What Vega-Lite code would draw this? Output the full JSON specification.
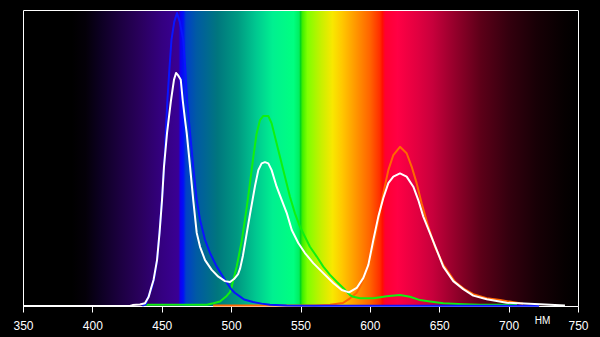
{
  "$schema": "https://vega.github.io/schema/vega-lite/v6.json",
  "width": 555,
  "height": 296,
  "autosize": {"type": "none"},
  "padding": {"left": 23, "top": 10, "right": 22, "bottom": 31},
  "background": "#000000",
  "config": {"view": {"stroke": null}, "font": "Liberation Sans"},
  "datasets": {
    "frame": [{"lo": 350, "hi": 750, "bottom": 0, "top": 1}],
    "white": [
      {"nm": 350, "v": 0}, {"nm": 427, "v": 0}, {"nm": 429, "v": 0.003}, {"nm": 434.3, "v": 0.005},
      {"nm": 437.9, "v": 0.009}, {"nm": 440.5, "v": 0.03}, {"nm": 442.3, "v": 0.06}, {"nm": 444.1, "v": 0.088},
      {"nm": 446.6, "v": 0.155}, {"nm": 448.4, "v": 0.247}, {"nm": 450.2, "v": 0.358}, {"nm": 451.6, "v": 0.47},
      {"nm": 453.8, "v": 0.584}, {"nm": 456.7, "v": 0.696}, {"nm": 458.8, "v": 0.764}, {"nm": 460.3, "v": 0.787},
      {"nm": 461.7, "v": 0.78}, {"nm": 463.7, "v": 0.764}, {"nm": 465.1, "v": 0.696}, {"nm": 466.8, "v": 0.628},
      {"nm": 468.0, "v": 0.584}, {"nm": 470.4, "v": 0.471}, {"nm": 472.7, "v": 0.358}, {"nm": 475.2, "v": 0.247},
      {"nm": 477.6, "v": 0.2}, {"nm": 481.2, "v": 0.155}, {"nm": 486.0, "v": 0.122}, {"nm": 490.8, "v": 0.099},
      {"nm": 495.6, "v": 0.084}, {"nm": 499.2, "v": 0.081}, {"nm": 502.1, "v": 0.091}, {"nm": 505.0, "v": 0.108},
      {"nm": 506.5, "v": 0.127}, {"nm": 508.5, "v": 0.17}, {"nm": 510.5, "v": 0.225}, {"nm": 513.6, "v": 0.31},
      {"nm": 517.2, "v": 0.405}, {"nm": 519.6, "v": 0.459}, {"nm": 522.0, "v": 0.482}, {"nm": 524.4, "v": 0.486},
      {"nm": 526.8, "v": 0.482}, {"nm": 529.2, "v": 0.459}, {"nm": 532.8, "v": 0.403}, {"nm": 536.5, "v": 0.358},
      {"nm": 540.1, "v": 0.314}, {"nm": 543.7, "v": 0.257}, {"nm": 548.4, "v": 0.213}, {"nm": 553.2, "v": 0.179},
      {"nm": 559.2, "v": 0.145}, {"nm": 566.4, "v": 0.111}, {"nm": 573.6, "v": 0.078}, {"nm": 579.7, "v": 0.054},
      {"nm": 585.0, "v": 0.046}, {"nm": 590.5, "v": 0.061}, {"nm": 595.3, "v": 0.095}, {"nm": 598.9, "v": 0.139},
      {"nm": 602.5, "v": 0.223}, {"nm": 606.1, "v": 0.302}, {"nm": 609.7, "v": 0.365}, {"nm": 613.3, "v": 0.415},
      {"nm": 616.9, "v": 0.437}, {"nm": 621.7, "v": 0.448}, {"nm": 626.5, "v": 0.437}, {"nm": 631.3, "v": 0.403},
      {"nm": 634.9, "v": 0.358}, {"nm": 638.5, "v": 0.302}, {"nm": 643.3, "v": 0.246}, {"nm": 648.2, "v": 0.189},
      {"nm": 652.9, "v": 0.133}, {"nm": 660.1, "v": 0.084}, {"nm": 667.3, "v": 0.057}, {"nm": 674.5, "v": 0.035},
      {"nm": 684.2, "v": 0.023}, {"nm": 698.6, "v": 0.011}, {"nm": 722.6, "v": 0.006}, {"nm": 740.6, "v": 0.002}
    ],
    "blue": [
      {"nm": 436, "v": 0.001}, {"nm": 438.5, "v": 0.006}, {"nm": 439.4, "v": 0.02}, {"nm": 441, "v": 0.04},
      {"nm": 443, "v": 0.064}, {"nm": 445, "v": 0.105}, {"nm": 446.6, "v": 0.155}, {"nm": 448.7, "v": 0.267},
      {"nm": 450.5, "v": 0.382}, {"nm": 452, "v": 0.493}, {"nm": 453.1, "v": 0.605}, {"nm": 454.1, "v": 0.696},
      {"nm": 455.5, "v": 0.8}, {"nm": 457, "v": 0.899}, {"nm": 459, "v": 0.96}, {"nm": 461, "v": 0.99},
      {"nm": 463, "v": 0.96}, {"nm": 465.5, "v": 0.899}, {"nm": 467, "v": 0.8}, {"nm": 468.2, "v": 0.696},
      {"nm": 470.4, "v": 0.584}, {"nm": 472.7, "v": 0.471}, {"nm": 475.2, "v": 0.358}, {"nm": 477.6, "v": 0.291},
      {"nm": 481.2, "v": 0.223}, {"nm": 484.8, "v": 0.179}, {"nm": 489.6, "v": 0.133}, {"nm": 495.6, "v": 0.088},
      {"nm": 500, "v": 0.057}, {"nm": 502.8, "v": 0.044}, {"nm": 507, "v": 0.03}, {"nm": 509.3, "v": 0.022},
      {"nm": 515.8, "v": 0.0135}, {"nm": 522, "v": 0.008}, {"nm": 528, "v": 0.004}, {"nm": 540, "v": 0.002},
      {"nm": 560, "v": 0.001}, {"nm": 722, "v": 0.001}
    ],
    "green": [
      {"nm": 436.5, "v": 0.004}, {"nm": 482.6, "v": 0.004}, {"nm": 487.2, "v": 0.009}, {"nm": 492.0, "v": 0.015},
      {"nm": 496.8, "v": 0.034}, {"nm": 499.2, "v": 0.047}, {"nm": 500.4, "v": 0.065}, {"nm": 502, "v": 0.095},
      {"nm": 504.0, "v": 0.133}, {"nm": 507.6, "v": 0.218}, {"nm": 511.2, "v": 0.331}, {"nm": 513.6, "v": 0.415},
      {"nm": 516.0, "v": 0.504}, {"nm": 518.4, "v": 0.583}, {"nm": 520.8, "v": 0.628}, {"nm": 523.2, "v": 0.642},
      {"nm": 526.8, "v": 0.642}, {"nm": 529.2, "v": 0.617}, {"nm": 531.6, "v": 0.572}, {"nm": 535.2, "v": 0.504},
      {"nm": 538.8, "v": 0.437}, {"nm": 542.4, "v": 0.369}, {"nm": 546.0, "v": 0.313}, {"nm": 549.6, "v": 0.268},
      {"nm": 553.2, "v": 0.234}, {"nm": 556.8, "v": 0.2}, {"nm": 561.7, "v": 0.167}, {"nm": 566.4, "v": 0.133},
      {"nm": 571.3, "v": 0.105}, {"nm": 576.1, "v": 0.082}, {"nm": 580.8, "v": 0.061}, {"nm": 585.7, "v": 0.037},
      {"nm": 588.0, "v": 0.031}, {"nm": 592.9, "v": 0.026}, {"nm": 602.5, "v": 0.026}, {"nm": 612.1, "v": 0.033},
      {"nm": 621.7, "v": 0.037}, {"nm": 628.9, "v": 0.031}, {"nm": 636.1, "v": 0.02}, {"nm": 643.3, "v": 0.015},
      {"nm": 652.9, "v": 0.009}, {"nm": 667.3, "v": 0.006}, {"nm": 679.4, "v": 0.004}, {"nm": 706, "v": 0.004}
    ],
    "orange": [
      {"nm": 487, "v": 0.002}, {"nm": 560, "v": 0.002}, {"nm": 571.3, "v": 0.004}, {"nm": 580.6, "v": 0.01},
      {"nm": 585.7, "v": 0.026}, {"nm": 590.5, "v": 0.045}, {"nm": 592.9, "v": 0.065}, {"nm": 595.3, "v": 0.09},
      {"nm": 597.7, "v": 0.122}, {"nm": 600, "v": 0.16}, {"nm": 602.5, "v": 0.2}, {"nm": 606.1, "v": 0.291},
      {"nm": 609.7, "v": 0.381}, {"nm": 613.3, "v": 0.459}, {"nm": 616.9, "v": 0.51}, {"nm": 621.7, "v": 0.538},
      {"nm": 626.5, "v": 0.516}, {"nm": 630.1, "v": 0.471}, {"nm": 633.7, "v": 0.415}, {"nm": 637.3, "v": 0.347},
      {"nm": 642.1, "v": 0.268}, {"nm": 646.9, "v": 0.2}, {"nm": 652.9, "v": 0.139}, {"nm": 655.4, "v": 0.122},
      {"nm": 661.4, "v": 0.082}, {"nm": 668.6, "v": 0.056}, {"nm": 674.5, "v": 0.04}, {"nm": 684.2, "v": 0.026},
      {"nm": 693.8, "v": 0.02}, {"nm": 708.2, "v": 0.009}, {"nm": 710.4, "v": 0.008}
    ]
  },
  "layer": [
    {
      "data": {"name": "frame"},
      "mark": {
        "type": "rect",
        "fill": {
          "gradient": "linear", "x1": 0, "y1": 0, "x2": 1, "y2": 0,
          "stops": [
            {"offset": 0, "color": "#000000"},
            {"offset": 0.0875, "color": "#000000"},
            {"offset": 0.1125, "color": "#040008"},
            {"offset": 0.1375, "color": "#0c0020"},
            {"offset": 0.175, "color": "#1c0040"},
            {"offset": 0.2125, "color": "#2a005e"},
            {"offset": 0.25, "color": "#340080"},
            {"offset": 0.28, "color": "#3a0094"},
            {"offset": 0.28375, "color": "#1000f0"},
            {"offset": 0.28875, "color": "#0010f8"},
            {"offset": 0.29375, "color": "#0040c8"},
            {"offset": 0.3125, "color": "#005aa4"},
            {"offset": 0.35, "color": "#00767e"},
            {"offset": 0.3875, "color": "#009a82"},
            {"offset": 0.42, "color": "#00c890"},
            {"offset": 0.45, "color": "#00f090"},
            {"offset": 0.4875, "color": "#00ff80"},
            {"offset": 0.4975, "color": "#00ee60"},
            {"offset": 0.5, "color": "#00d820"},
            {"offset": 0.50375, "color": "#40f000"},
            {"offset": 0.5125, "color": "#80ff00"},
            {"offset": 0.5375, "color": "#c8f000"},
            {"offset": 0.5575, "color": "#f8e800"},
            {"offset": 0.575, "color": "#ffc800"},
            {"offset": 0.595, "color": "#ffa000"},
            {"offset": 0.625, "color": "#ff6400"},
            {"offset": 0.6425, "color": "#ff3000"},
            {"offset": 0.6475, "color": "#ff1000"},
            {"offset": 0.6525, "color": "#ff0030"},
            {"offset": 0.675, "color": "#ff0044"},
            {"offset": 0.7125, "color": "#e00040"},
            {"offset": 0.7375, "color": "#c8003c"},
            {"offset": 0.775, "color": "#98002c"},
            {"offset": 0.825, "color": "#5c0018"},
            {"offset": 0.875, "color": "#34000e"},
            {"offset": 0.925, "color": "#180006"},
            {"offset": 0.975, "color": "#060001"},
            {"offset": 1, "color": "#000000"}
          ]
        }
      },
      "encoding": {
        "x": {
          "field": "lo", "type": "quantitative",
          "scale": {"domain": [350, 750], "nice": false, "zero": false},
          "axis": {
            "values": [350, 400, 450, 500, 550, 600, 650, 700, 750],
            "format": "d",
            "domain": false, "grid": false,
            "tickColor": "#ffffff", "tickSize": 6, "tickWidth": 1,
            "labelColor": "#ffffff", "labelFontSize": 12, "labelPadding": 8,
            "labelFlush": false, "labelOverlap": false, "labelFont": "Liberation Sans",
            "title": "НМ", "titleColor": "#ffffff", "titleFontSize": 10, "titleFontWeight": "normal",
            "titleFont": "Liberation Sans",
            "titleX": 519, "titleY": 14, "titleAlign": "center", "titleBaseline": "middle"
          }
        },
        "x2": {"field": "hi"},
        "y": {"field": "bottom", "type": "quantitative", "scale": {"domain": [0, 1], "nice": false, "zero": false}, "axis": null},
        "y2": {"field": "top"}
      }
    },
    {
      "data": {"name": "frame"},
      "mark": {"type": "rect", "filled": false, "stroke": "#ffffff", "strokeWidth": 1,
               "xOffset": 0.5, "x2Offset": 0.5, "yOffset": 0.5, "y2Offset": 0.5},
      "encoding": {
        "x": {"field": "lo", "type": "quantitative"},
        "x2": {"field": "hi"},
        "y": {"field": "bottom", "type": "quantitative"},
        "y2": {"field": "top"}
      }
    },
    {
      "data": {"name": "orange"},
      "mark": {"type": "line", "color": "#ff6600", "strokeWidth": 2, "strokeJoin": "round"},
      "encoding": {"x": {"field": "nm", "type": "quantitative"}, "y": {"field": "v", "type": "quantitative"}}
    },
    {
      "data": {"name": "green"},
      "mark": {"type": "line", "color": "#10f010", "strokeWidth": 2, "strokeJoin": "round"},
      "encoding": {"x": {"field": "nm", "type": "quantitative"}, "y": {"field": "v", "type": "quantitative"}}
    },
    {
      "data": {"name": "blue"},
      "mark": {"type": "line", "color": "#0a14ff", "strokeWidth": 2, "strokeJoin": "round"},
      "encoding": {"x": {"field": "nm", "type": "quantitative"}, "y": {"field": "v", "type": "quantitative"}}
    },
    {
      "data": {"name": "white"},
      "mark": {"type": "line", "color": "#ffffff", "strokeWidth": 2, "strokeJoin": "round"},
      "encoding": {"x": {"field": "nm", "type": "quantitative"}, "y": {"field": "v", "type": "quantitative"}}
    }
  ]
}
